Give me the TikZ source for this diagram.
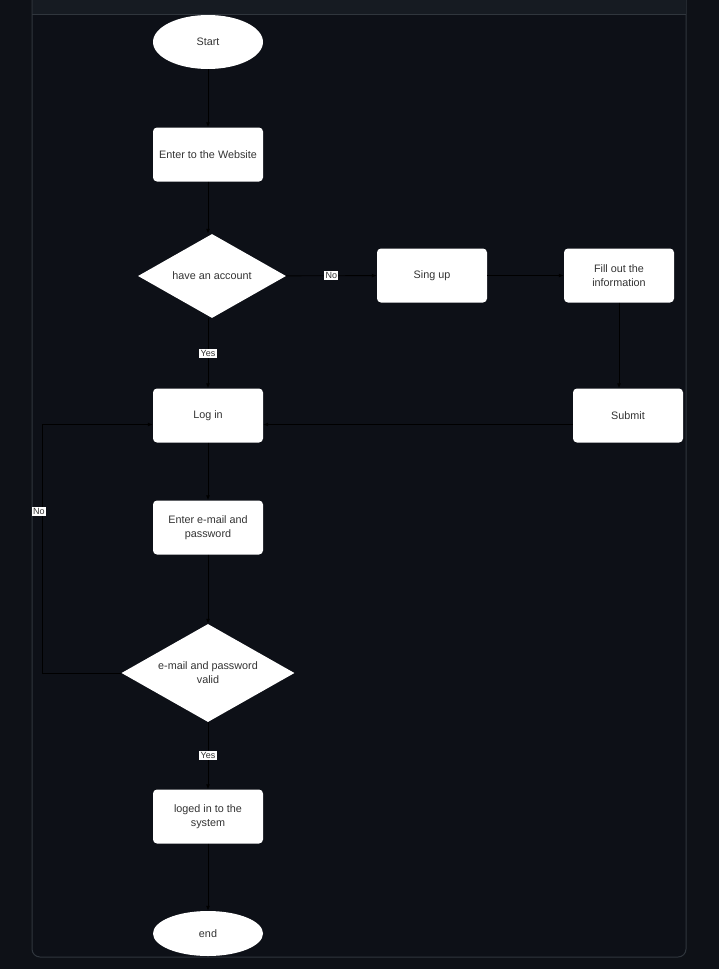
\documentclass[tikz,border=0pt]{standalone}
\usepackage{fontspec}
\setmainfont{Liberation Sans}
\usetikzlibrary{shapes.geometric,arrows.meta}

\definecolor{pagebg}{HTML}{0E1117}
\definecolor{panelbg}{HTML}{0D1017}
\definecolor{headbg}{HTML}{161B22}
\definecolor{panelline}{HTML}{30363D}
\definecolor{txtgray}{HTML}{333333}

\tikzset{
  base/.style={fill=white, draw=none, text=txtgray, align=center, inner sep=0pt,
    font=\fontsize{10.8}{14}\selectfont},
  procbox/.style={base, rectangle, rounded corners=4pt, minimum width=110pt, minimum height=54pt},
  termbox/.style={base, ellipse, minimum width=110pt, minimum height=54pt},
  decbox/.style={base, diamond, aspect=1.8, minimum width=148pt, minimum height=84pt},
  conn/.style={draw=black, line width=0.9pt, -{Latex[length=5pt,width=4pt]}},
  lbl/.style={fill=white, text=txtgray, inner sep=1.2pt, font=\fontsize{9}{10}\selectfont},
}

\begin{document}
\begin{tikzpicture}[x=1pt,y=-1pt]
  % canvas
  \useasboundingbox (0,0) rectangle (719,969);
  \fill[pagebg] (0,0) rectangle (719,969);

  % framed panel with header strip
  \draw[panelline, fill=panelbg, line width=1pt, rounded corners=8pt] (32,-30) rectangle (686,957);
  \fill[headbg] (32.5,-30) rectangle (685.5,14);
  \draw[panelline, line width=1pt] (32,14) -- (686,14);

  % nodes
  \node[termbox] (start)  at (208,42)    {Start};
  \node[procbox] (web)    at (208,154.5) {Enter to the Website};
  \node[decbox]  (acct)   at (212,276)   {have an account};
  \node[procbox] (signup) at (432,275.5) {Sing up};
  \node[procbox] (fill)   at (619,275.5) {Fill out the\\information};
  \node[procbox] (submit) at (628,415.5) {Submit};
  \node[procbox] (login)  at (208,415.5) {Log in};
  \node[procbox] (email)  at (208,527.5) {Enter e-mail and\\password};
  \node[decbox, minimum width=173pt, minimum height=98pt] (valid) at (208,673) {e-mail and password\\valid};
  \node[procbox] (loged)  at (208,816.5) {loged in to the\\system};
  \node[termbox, minimum height=45pt] (end) at (208,933.5) {end};

  \coordinate (loopx) at (42,0);
  \coordinate (loginin)  at ([yshift=-9pt]login.west);
  \coordinate (loginret) at ([yshift=-9pt]login.east);
  \coordinate (submitout) at ([yshift=-9pt]submit.west);

  % connectors
  \draw[conn] (start) -- (web);
  \draw[conn] (web) -- (web |- acct.north);
  \draw[conn] (acct) -- node[lbl] {No} (signup);
  \draw[conn] (signup) -- (fill);
  \draw[conn] (fill.south) -- (fill.south |- submit.north);
  \draw[conn] (submitout) -- (loginret);
  \draw[conn] (acct.south -| login) -- node[lbl] {Yes} (login);
  \draw[conn] (login) -- (email);
  \draw[conn] (email) -- (valid);
  \draw[conn] (valid.west) -- (valid.west -| loopx)
      -- node[lbl, pos=0.65, xshift=-3pt] {No} (loopx |- loginin) -- (loginin);
  \draw[conn] (valid) -- node[lbl] {Yes} (loged);
  \draw[conn] (loged) -- (end);
\end{tikzpicture}
\end{document}
